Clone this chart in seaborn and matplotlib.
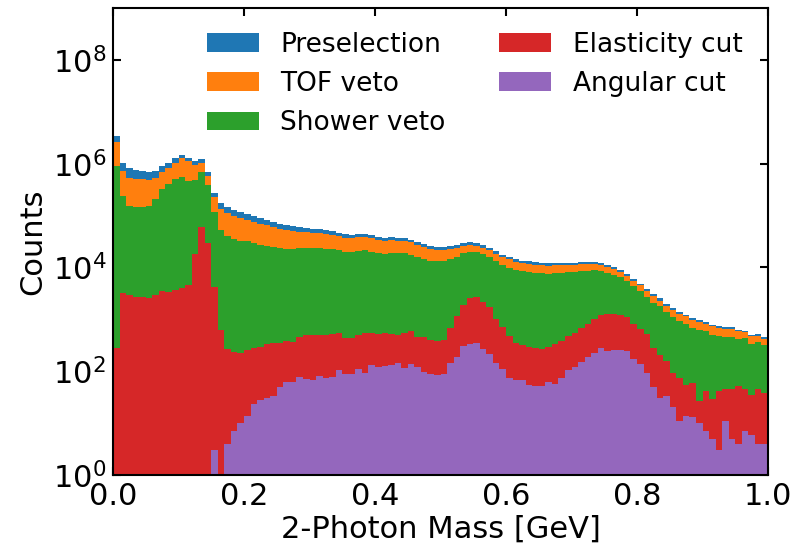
import numpy as np
import pandas as pd
import matplotlib
matplotlib.use("Agg")
import matplotlib.pyplot as plt
from matplotlib.patches import Patch
import seaborn as sns

# ---- data: counts per bin (100 bins from 0 to 1 GeV) ----
bin_edges = np.linspace(0.0, 1.0, 101).tolist()

preselection = [
    3.4e6, 1.05e6, 8.1e5, 7.6e5, 7.2e5, 6.8e5, 7.2e5, 8.9e5, 1.05e6, 1.26e6,
    1.48e6, 1.29e6, 1.12e6, 1.23e6, 6.8e5, 2.75e5, 1.74e5, 1.45e5, 1.29e5, 1.17e5,
    1.05e5, 9.8e4, 8.9e4, 8.1e4, 7.4e4, 6.8e4, 6.5e4, 6.2e4, 5.9e4, 5.8e4,
    5.6e4, 5.5e4, 5.2e4, 5.0e4, 4.6e4, 4.4e4, 4.2e4, 4.4e4, 4.4e4, 4.2e4,
    3.9e4, 3.7e4, 3.9e4, 3.7e4, 3.7e4, 3.4e4, 3.1e4, 2.8e4, 2.6e4, 2.45e4,
    2.45e4, 2.6e4, 2.7e4, 2.95e4, 3.1e4, 2.95e4, 2.7e4, 2.35e4, 2.1e4, 1.74e4,
    1.58e4, 1.45e4, 1.32e4, 1.32e4, 1.26e4, 1.2e4, 1.2e4, 1.2e4, 1.2e4, 1.2e4,
    1.2e4, 1.26e4, 1.26e4, 1.26e4, 1.2e4, 1.12e4, 1.02e4, 8.9e3, 7.4e3, 6.0e3,
    4.8e3, 3.8e3, 3.1e3, 2.6e3, 1.95e3, 1.66e3, 1.38e3, 1.2e3, 1.07e3, 980,
    890, 780, 740, 710, 710, 620, 590, 500, 520, 460,
]

tof_veto = [
    2.63e6, 7.2e5, 5.2e5, 5.0e5, 5.0e5, 4.8e5, 5.2e5, 6.8e5, 8.3e5, 1.05e6,
    1.29e6, 1.12e6, 9.3e5, 1.05e6, 5.9e5, 2.3e5, 1.32e5, 1.12e5, 1.0e5, 8.9e4,
    8.1e4, 7.6e4, 6.9e4, 6.5e4, 6.0e4, 5.5e4, 5.2e4, 5.1e4, 4.9e4, 4.8e4,
    4.6e4, 4.6e4, 4.5e4, 4.3e4, 4.0e4, 3.7e4, 3.7e4, 3.9e4, 3.9e4, 3.7e4,
    3.4e4, 3.2e4, 3.4e4, 3.2e4, 3.2e4, 3.1e4, 2.7e4, 2.45e4, 2.25e4, 2.2e4,
    2.2e4, 2.25e4, 2.35e4, 2.6e4, 2.7e4, 2.6e4, 2.35e4, 2.2e4, 1.82e4, 1.58e4,
    1.45e4, 1.26e4, 1.2e4, 1.17e4, 1.12e4, 1.1e4, 1.07e4, 1.1e4, 1.1e4, 1.12e4,
    1.1e4, 1.15e4, 1.15e4, 1.15e4, 1.1e4, 1.02e4, 9.3e3, 8.1e3, 6.8e3, 5.5e3,
    4.6e3, 3.5e3, 2.8e3, 2.3e3, 1.8e3, 1.5e3, 1.26e3, 1.15e3, 980, 890,
    810, 740, 680, 650, 650, 590, 575, 480, 480, 420,
]

shower_veto = [
    8.9e5, 2.4e5, 1.51e5, 1.48e5, 1.48e5, 1.51e5, 2.1e5, 3.2e5, 4.1e5, 5.0e5,
    5.5e5, 4.6e5, 4.8e5, 6.9e5, 3.9e5, 1.17e5, 5.2e4, 4.1e4, 3.5e4, 3.3e4,
    3.2e4, 2.9e4, 2.7e4, 2.6e4, 2.5e4, 2.4e4, 2.3e4, 2.3e4, 2.35e4, 2.35e4,
    2.35e4, 2.35e4, 2.3e4, 2.25e4, 2.2e4, 2.0e4, 2.0e4, 2.1e4, 2.2e4, 2.0e4,
    1.9e4, 1.82e4, 1.9e4, 1.9e4, 1.9e4, 1.74e4, 1.58e4, 1.45e4, 1.32e4, 1.32e4,
    1.32e4, 1.45e4, 1.58e4, 1.9e4, 2.0e4, 2.0e4, 1.82e4, 1.58e4, 1.32e4, 1.12e4,
    9.8e3, 8.9e3, 8.5e3, 8.1e3, 7.8e3, 7.8e3, 7.6e3, 7.8e3, 7.8e3, 8.1e3,
    8.1e3, 8.5e3, 8.5e3, 8.9e3, 8.5e3, 7.8e3, 7.1e3, 6.6e3, 5.5e3, 4.4e3,
    3.5e3, 2.7e3, 2.1e3, 1.8e3, 1.38e3, 1.1e3, 930, 810, 680, 620,
    590, 500, 480, 460, 460, 420, 440, 330, 360, 320,
]

elasticity_cut = [
    280, 3.2e3, 2.95e3, 2.75e3, 2.75e3, 2.6e3, 2.95e3, 3.5e3, 3.4e3, 3.6e3,
    4.0e3, 4.6e3, 1.82e4, 5.9e4, 2.95e4, 4.2e3, 630, 270, 230, 220,
    260, 275, 295, 330, 350, 350, 380, 370, 460, 490,
    490, 510, 510, 525, 550, 440, 440, 500, 550, 550,
    525, 550, 525, 500, 550, 590, 460, 460, 400, 380,
    400, 680, 1.15e3, 1.9e3, 2.6e3, 2.7e3, 2.2e3, 1.74e3, 1.02e3, 710,
    480, 350, 320, 295, 280, 270, 295, 330, 380, 480,
    550, 680, 810, 1.02e3, 1.2e3, 1.26e3, 1.26e3, 1.2e3, 1.1e3, 810,
    650, 525, 280, 205, 160, 93, 74, 54, 59, 27,
    42, 29, 42, 46, 46, 52, 46, 35, 46, 38,
]

angular_cut = [
    0, 0, 0, 0, 0, 0, 0, 0, 0, 0,
    0, 0, 0, 0, 1, 3, 0, 4, 7, 10,
    14, 23, 28, 31, 33, 50, 62, 62, 78, 71,
    69, 81, 75, 78, 105, 89, 89, 110, 93, 132,
    120, 126, 132, 145, 115, 138, 120, 95, 89, 85,
    89, 145, 186, 309, 331, 347, 269, 214, 145, 110,
    74, 68, 68, 54, 51, 52, 62, 56, 74, 105,
    120, 151, 186, 224, 282, 245, 257, 257, 245, 174,
    138, 93, 50, 30, 33, 20, 11, 14, 13, 10,
    7, 5, 3, 11, 5, 4, 7, 6, 4, 4,
]

series_names = ["Preselection", "TOF veto", "Shower veto", "Elasticity cut", "Angular cut"]
series_values = [preselection, tof_veto, shower_veto, elasticity_cut, angular_cut]
series_colors = ["#1f77b4", "#ff7f0e", "#2ca02c", "#d62728", "#9467bd"]

x_ticks = [0.0, 0.2, 0.4, 0.6, 0.8, 1.0]
x_tick_labels = ["0.0", "0.2", "0.4", "0.6", "0.8", "1.0"]
y_ticks = [1e0, 1e2, 1e4, 1e6, 1e8]

# ---- build table ----
centers = [0.5 * (a + b) for a, b in zip(bin_edges[:-1], bin_edges[1:])]
rows = []
for name, vals in zip(series_names, series_values):
    for c, v in zip(centers, vals):
        rows.append({"mass": c, "count": float(v), "cut": name})
df = pd.DataFrame(rows)

sns.set_style("ticks")
plt.rcParams["font.family"] = ["DejaVu Sans"]
plt.rcParams.update({
    "text.color": "black",
    "axes.labelcolor": "black",
    "xtick.color": "black",
    "ytick.color": "black",
    "axes.edgecolor": "black",
})

fig = plt.figure(figsize=(7.93, 5.5), dpi=100)
ax = fig.add_axes([113 / 793, 1 - 475 / 550, (768 - 113) / 793, (475 - 8) / 550])

for name, color in zip(series_names, series_colors):
    sub = df[df["cut"] == name]
    sns.histplot(data=sub, x="mass", weights="count", bins=bin_edges,
                 element="step", fill=True, color=color, alpha=1.0,
                 linewidth=0, ax=ax)

ax.set_yscale("log")
ax.set_xlim(0, 1)
ax.set_ylim(1, 1e9)
ax.set_xticks(x_ticks)
ax.set_xticklabels(x_tick_labels)
ax.set_yticks(y_ticks)
ax.yaxis.set_minor_locator(matplotlib.ticker.NullLocator())
ax.tick_params(axis="both", which="major", direction="in", length=6, width=1.5,
               labelsize=22, top=True, right=True, pad=5,
               colors="black", labelcolor="black")
for sp in ax.spines.values():
    sp.set_linewidth(1.5)
    sp.set_color("black")

ax.set_xlabel("2-Photon Mass [GeV]", fontsize=22, color="black", labelpad=3)
ax.set_ylabel("Counts", fontsize=22, color="black", labelpad=4)

handles = [Patch(facecolor=c, edgecolor="none", label=n)
           for n, c in zip(series_names, series_colors)]
leg = ax.legend(handles=handles, ncol=2, frameon=False, fontsize=19,
                loc="upper left", bbox_to_anchor=(0.1066, 1.0),
                handlelength=2.0, handleheight=0.7, handletextpad=0.8,
                columnspacing=2.0, labelspacing=0.5)
for t in leg.get_texts():
    t.set_color("black")

fig.savefig("out.png", dpi=100)
